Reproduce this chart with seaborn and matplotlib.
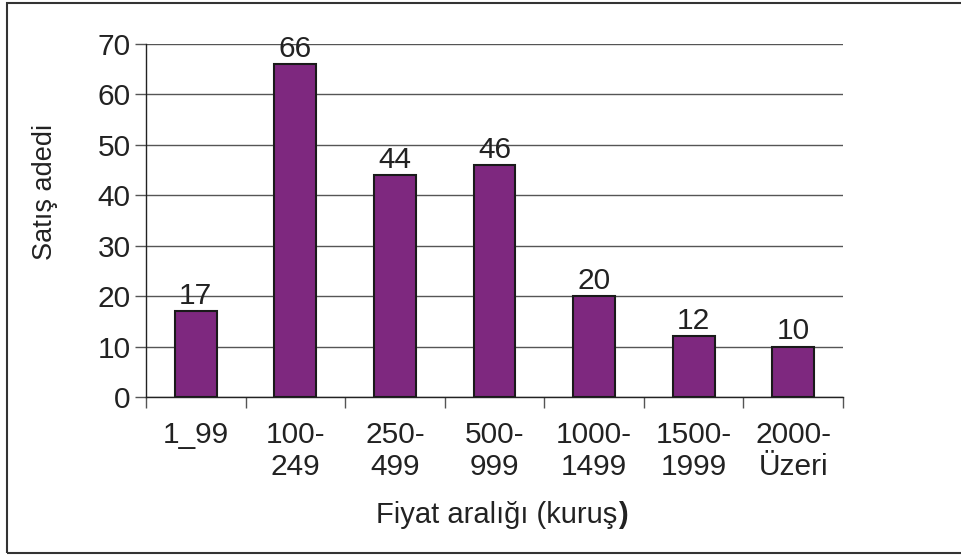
import matplotlib
matplotlib.use('Agg')
import matplotlib.pyplot as plt
import seaborn as sns
import numpy as np
from matplotlib.patches import Rectangle

# veriler
kategoriler = ['1_99', '100-\n249', '250-\n499', '500-\n999', '1000-\n1499', '1500-\n1999', '2000-\nÜzeri']
satis_adedi = [17, 66, 44, 46, 20, 12, 10]

sns.set_style('white')
plt.rcParams['font.family'] = ['Liberation Sans', 'DejaVu Sans']

W, H = 961, 556
fig = plt.figure(figsize=(W / 100, H / 100), dpi=100)
ax = fig.add_axes([146 / W, 1 - 397 / H, (843 - 146) / W, (397 - 44) / H])

sns.barplot(x=kategoriler, y=satis_adedi, color='#7E287F', edgecolor='#1a1a1a',
            linewidth=1.5, width=0.42, saturation=1, ax=ax, zorder=3)

ax.set_ylim(0, 70)
ax.set_xlim(-0.5, len(kategoriler) - 0.5)
ax.set_yticks(range(0, 71, 10))
ax.yaxis.grid(True, color='#555555', linewidth=1)
ax.set_axisbelow(True)

for s in ['top', 'right']:
    ax.spines[s].set_visible(False)
for s in ['left', 'bottom']:
    ax.spines[s].set_color('#222222')
    ax.spines[s].set_linewidth(1)

fs = 21.5
ax.tick_params(axis='y', length=8, width=1, color='#555555', labelsize=fs, pad=3, left=True,
               labelcolor='#222222')
ax.set_xticks(np.arange(-0.5, len(kategoriler), 1), minor=True)
ax.tick_params(axis='x', which='minor', length=8, width=1, color='#555555', bottom=True)
ax.tick_params(axis='x', which='major', length=0, labelsize=fs, pad=17, labelcolor='#222222')
ax.set_xticklabels(kategoriler, linespacing=1.22)

for i, v in enumerate(satis_adedi):
    ax.text(i, v + 0.3, str(v), ha='center', va='bottom', fontsize=fs, color='#222222')

ax.set_ylabel('')
ax.set_xlabel('')
fig.text(45 / W, 1 - 192 / H, 'Satış adedi', fontsize=19.5, rotation=90,
         ha='center', va='center', color='#222222')

# x etiketi, kapanan parantez kalin
t = fig.text(497 / W, 1 - 523 / H, 'Fiyat aralığı (kuruş', fontsize=21,
             ha='center', va='baseline', color='#222222')
fig.canvas.draw()
bb = t.get_window_extent()
fig.text(bb.x1 / W, 1 - 523 / H, ')', fontsize=21, fontweight='bold',
         ha='left', va='baseline', color='#222222')

# cerceve
fig.patches.append(Rectangle((7 / W, 1 - 553 / H), 960 / W, 550 / H, transform=fig.transFigure,
                             fill=False, edgecolor='#333333', linewidth=1.5, clip_on=False))

fig.savefig('out.png', dpi=100)
